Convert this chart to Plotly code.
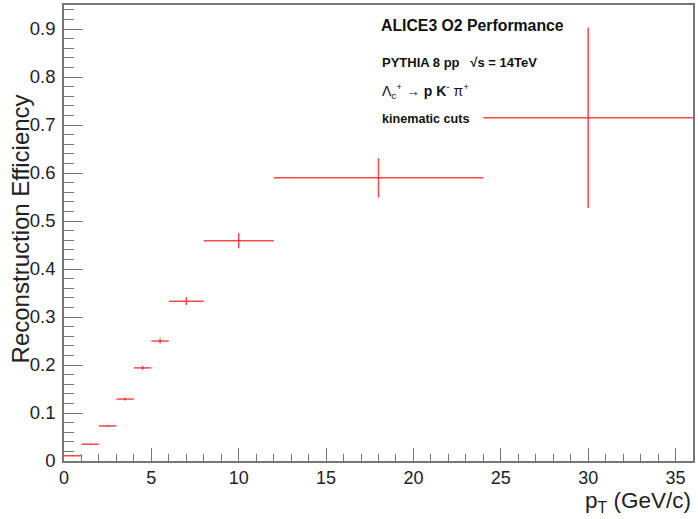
import plotly.graph_objects as go

pt_lo = [0, 1, 2, 3, 4, 5, 6, 8, 12, 24]
pt_hi = [1, 2, 3, 4, 5, 6, 8, 12, 24, 36]
eff = [0.011, 0.035, 0.073, 0.129, 0.194, 0.250, 0.333, 0.459, 0.590, 0.715]
eff_err = [0.001, 0.001, 0.002, 0.003, 0.004, 0.005, 0.008, 0.016, 0.041, 0.188]

x_ticks = [0, 5, 10, 15, 20, 25, 30, 35]
y_ticks = [0, 0.1, 0.2, 0.3, 0.4, 0.5, 0.6, 0.7, 0.8, 0.9]

centers = [(a + b) / 2 for a, b in zip(pt_lo, pt_hi)]
half_w = [(b - a) / 2 for a, b in zip(pt_lo, pt_hi)]

red = "rgba(255,40,40,0.85)"
fig = go.Figure()
fig.add_trace(go.Scatter(
    x=centers, y=eff, mode="markers",
    marker=dict(size=1, color=red),
    error_x=dict(type="data", array=half_w, width=0, thickness=1.5, color=red),
    error_y=dict(type="data", array=eff_err, width=0, thickness=1.5, color=red),
    showlegend=False,
))

font = "Liberation Sans, Arial, Helvetica, sans-serif"
axcol = "#777"
fig.update_layout(
    width=698, height=519,
    margin=dict(l=64, r=3, t=4, b=58),
    paper_bgcolor="white", plot_bgcolor="white",
    font=dict(family=font, color="#222"),
    xaxis=dict(range=[0, 36], tickvals=x_ticks, ticks="inside", ticklen=13,
               tickcolor=axcol, tickwidth=1, showgrid=False, zeroline=False,
               showline=True, linecolor=axcol, linewidth=1.5, mirror=True,
               tickfont=dict(size=18, family=font, color="#222"),
               minor=dict(dtick=1, ticks="inside", ticklen=7, tickcolor=axcol, showgrid=False)),
    yaxis=dict(range=[0, 0.95], tickvals=y_ticks, ticktext=["0", "0.1", "0.2", "0.3", "0.4", "0.5", "0.6", "0.7", "0.8", "0.9"],
               ticks="inside", ticklen=19, ticklabelstandoff=3,
               tickcolor=axcol, tickwidth=1, showgrid=False, zeroline=False,
               showline=True, linecolor=axcol, linewidth=1.5, mirror=True,
               tickfont=dict(size=18.5, family=font, color="#222"),
               minor=dict(dtick=0.02, ticks="inside", ticklen=10, tickcolor=axcol, showgrid=False)),
)

fig.add_annotation(text="Reconstruction Efficiency", xref="paper", yref="paper",
                   x=-0.07, y=0.51, xanchor="center", yanchor="middle", textangle=-90,
                   showarrow=False, font=dict(size=24, family=font, color="#222"))
fig.add_annotation(text="p<sub>T</sub> (GeV/c)", xref="paper", yref="paper",
                   x=1.0, y=-0.09, xanchor="right", yanchor="middle",
                   showarrow=False, font=dict(size=22.5, family=font, color="#222"))

fig.add_annotation(text="<b>ALICE3 O2 Performance</b>", xref="paper", yref="paper",
                   x=0.5, y=0.954, xanchor="left", yanchor="middle",
                   showarrow=False, font=dict(size=15.8, family=font, color="#111"))
fig.add_annotation(text="<b>PYTHIA 8 pp   √s = 14TeV</b>", xref="paper", yref="paper",
                   x=0.502, y=0.875, xanchor="left", yanchor="middle",
                   showarrow=False, font=dict(size=13, family=font, color="#111"))
fig.add_annotation(text="Λ<sub>c</sub><sup>+</sup> → <b>p K</b><sup>-</sup> π<sup>+</sup>", xref="paper", yref="paper",
                   x=0.502, y=0.812, xanchor="left", yanchor="middle",
                   showarrow=False, font=dict(size=14, family=font, color="#111"))
fig.add_annotation(text="<b>kinematic cuts</b>", xref="paper", yref="paper",
                   x=0.502, y=0.751, xanchor="left", yanchor="middle",
                   showarrow=False, font=dict(size=12.6, family=font, color="#111"))

fig.write_html("out.html")
